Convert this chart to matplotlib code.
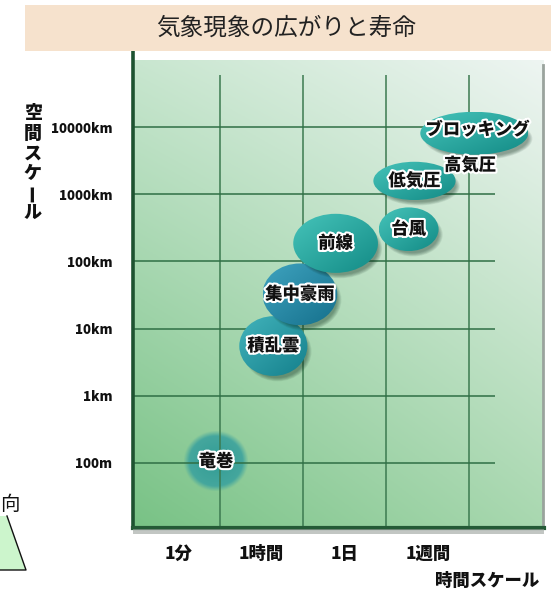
import matplotlib
matplotlib.use("Agg")
import matplotlib.pyplot as plt
import matplotlib.patheffects as pe
from matplotlib.patches import Ellipse, Rectangle, Polygon
from matplotlib.colors import to_rgb
import numpy as np

plt.rcParams['font.family'] = ['Noto Sans CJK JP', 'DejaVu Sans']

title = "気象現象の広がりと寿命"

# x: 時間スケール (grid index), y: log10(空間スケール[m])
time_ticks = ["1分", "1時間", "1日", "1週間"]
time_tick_pos = [0.5, 1.5, 2.5, 3.5]
time_grid = [1, 2, 3, 4]
space_ticks = ["100m", "1km", "10km", "100km", "1000km", "10000km"]
space_tick_pos = [2, 3, 4, 5, 6, 7]

names = ["竜巻", "積乱雲", "集中豪雨", "前線", "台風", "低気圧", "ブロッキング高気圧"]
t_center = [0.95, 1.64, 1.96, 2.39, 3.27, 3.34, 4.06]
s_center = [2.02, 3.74, 4.51, 5.27, 5.48, 6.20, 6.91]
t_width = [0.76, 0.82, 0.90, 1.02, 0.72, 0.99, 1.30]
s_height = [0.88, 0.89, 0.92, 0.88, 0.65, 0.57, 0.64]

XMIN, XMAX = -0.05, 4.90
YMIN, YMAX = 1.03, 8.12
W, H = 551, 593


def fx(px):
    return px / W


def fy(py):
    return 1 - py / H


fig = plt.figure(figsize=(W / 100, H / 100), dpi=100)
fig.patch.set_facecolor("white")

# タイトル帯
fig.add_artist(Rectangle((fx(25), fy(51)), fx(W - 25), 46 / H, transform=fig.transFigure,
                         facecolor="#f6e2cd", edgecolor="none"))
fig.text(fx(286), fy(28), title, ha="center", va="center", fontsize=17, color="#222222")

ax = fig.add_axes([fx(133), fy(528), fx(544 - 133), (528 - 52) / H])
ax.set_xlim(XMIN, XMAX)
ax.set_ylim(YMIN, YMAX)

# 背景のグラデーション
bl, br, tl, tr = [np.array(to_rgb(c)) for c in ("#78c285", "#a9d8b0", "#c8e6cf", "#eef5f2")]
u = np.linspace(0, 1, 200)[None, :, None]
v = np.linspace(0, 1, 200)[:, None, None]
bg = (1 - u) * (1 - v) * bl + u * (1 - v) * br + (1 - u) * v * tl + u * v * tr
ax.imshow(bg, origin="lower", extent=[XMIN, XMAX, YMIN, 8.0], aspect="auto", zorder=0)

# 格子線
ax.vlines(time_grid, YMIN, 7.77, colors="#3c7a50", lw=1.1, zorder=2)
ax.hlines(space_tick_pos, XMIN, 4.31, colors="#2f6f45", lw=1.1, zorder=2)

label_style = dict(ha="center", va="center", fontsize=12.5, fontweight="black", color="#111111",
                   path_effects=[pe.withStroke(linewidth=3, foreground="white")])

light = {"積乱雲": "#42b3bb", "集中豪雨": "#3fa3bf"}
dark = {"積乱雲": "#14808c", "集中豪雨": "#15708c"}

for i, name in enumerate(names):
    x, y, w, h = t_center[i], s_center[i], t_width[i], s_height[i]
    z = 1 if name == "竜巻" else 3 + i
    if name == "竜巻":
        # 輪郭のぼけた半透明の円
        gx = np.linspace(-1, 1, 120)[None, :]
        gy = np.linspace(-1, 1, 120)[:, None]
        r = np.sqrt(gx ** 2 + gy ** 2)
        img = np.zeros((120, 120, 4))
        mix = np.clip(r, 0, 1)[..., None] * 0.35
        img[..., :3] = np.array(to_rgb("#2a9996")) * (1 - mix) + np.array(to_rgb("#6fbdb2")) * mix
        img[..., 3] = np.clip((1.02 - r) / 0.18, 0, 1) * 0.92
        ax.imshow(img, origin="lower", extent=[x - w / 2, x + w / 2, y - h / 2, y + h / 2],
                  aspect="auto", zorder=z, interpolation="bilinear")
    else:
        # 影
        for k in range(6):
            ax.add_patch(Ellipse((x + 0.05, y - 0.08), w - 0.02 * k, h - 0.02 * k,
                                 facecolor="#0b2a1c", edgecolor="none", alpha=0.08, zorder=z))
        ell = Ellipse((x, y), w, h, facecolor="none", edgecolor="none", zorder=z)
        ax.add_patch(ell)
        gu = np.linspace(0, 1, 100)[None, :, None]
        gv = np.linspace(0, 1, 100)[:, None, None]
        t = np.clip((gu + (1 - gv)) / 2, 0, 1)
        c0 = np.array(to_rgb(light.get(name, "#46c4ba")))
        c1 = np.array(to_rgb(dark.get(name, "#138b86")))
        grad = (1 - t) * c0 + t * c1
        im = ax.imshow(grad, origin="lower", extent=[x - w / 2, x + w / 2, y - h / 2, y + h / 2],
                       aspect="auto", zorder=z, interpolation="bilinear")
        im.set_clip_path(ell)

    if name == "ブロッキング高気圧":
        ax.text(x + 0.04, y + 0.05, "ブロッキング", zorder=z + 0.5, **label_style)
        ax.text(x - 0.05, y - 0.48, "高気圧", zorder=z + 0.5, **label_style)
    else:
        ax.text(x, y, name, zorder=max(z, 3) + 0.5, **label_style)

ax.set_xlim(XMIN, XMAX)
ax.set_ylim(YMIN, YMAX)

# 軸
for side in ("top", "right"):
    ax.spines[side].set_visible(False)
ax.spines["left"].set_color("#1d5230")
ax.spines["left"].set_linewidth(2.6)
ax.spines["bottom"].set_color("#245a36")
ax.spines["bottom"].set_linewidth(3)
ax.spines["left"].set_zorder(10)
ax.spines["bottom"].set_zorder(10)
ax.plot([XMAX - 0.015] * 2, [YMIN, 7.93], color="#9aa39d", lw=2, zorder=5, clip_on=False)
fig.add_artist(Rectangle((fx(133), fy(534)), fx(544 - 133), 5 / H, transform=fig.transFigure,
                         facecolor="#9aa09b", edgecolor="none", alpha=0.6))

ax.set_xticks(time_tick_pos, time_ticks)
ax.set_yticks(space_tick_pos, space_ticks)
ax.tick_params(axis="both", length=0)
ax.tick_params(axis="x", pad=12, labelsize=12.5)
ax.tick_params(axis="y", pad=15, labelsize=9.5)
for lab in ax.get_xticklabels() + ax.get_yticklabels():
    lab.set_fontweight("black")
    lab.set_color("#111111")

# 軸ラベル
fig.text(fx(487), fy(581), "時間スケール", ha="center", va="center", fontsize=12.5,
         fontweight="black", color="#111111")
for k, ch in enumerate("空間スケール"):
    fig.text(fx(33), fy(113 + 20 * k), ch, ha="center", va="center", fontsize=13,
             fontweight="black", color="#111111", rotation=90 if ch == "ー" else 0)

# 左下の図形の一部
fig.text(fx(10), fy(504), "向", ha="center", va="center", fontsize=14, color="#111111")
fig.add_artist(Polygon([(fx(0), fy(516)), (fx(7), fy(516)), (fx(26), fy(570)), (fx(0), fy(570))],
                       closed=True, transform=fig.transFigure, facecolor="#ccf5cc", edgecolor="none"))
fig.add_artist(plt.Line2D([fx(7), fx(26), fx(0)], [fy(516), fy(570), fy(570)],
                          transform=fig.transFigure, color="#111111", lw=1))

fig.savefig("out.png", dpi=100)
